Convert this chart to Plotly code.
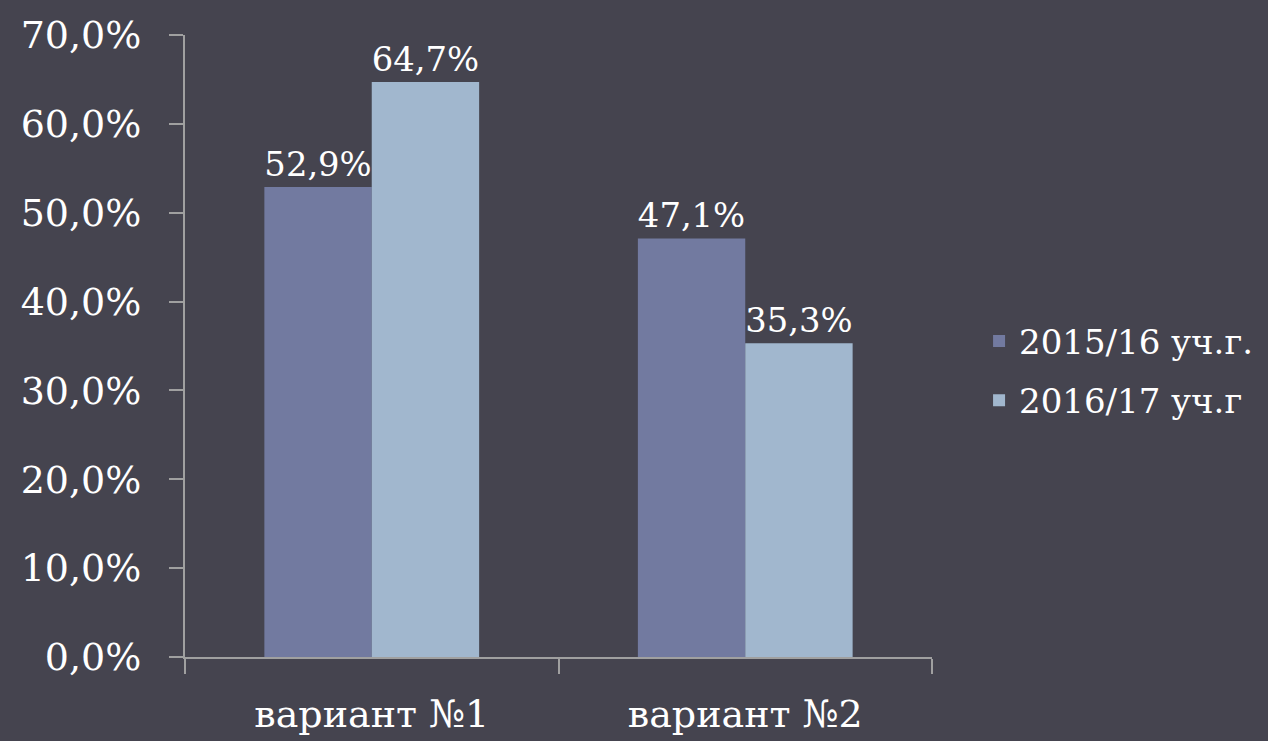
import plotly.graph_objects as go

categories = ["вариант №1", "вариант №2"]
series_names = ["2015/16 уч.г.", "2016/17 уч.г"]
values_2015 = [52.9, 47.1]
values_2016 = [64.7, 35.3]
y_ticks = [0, 10, 20, 30, 40, 50, 60, 70]

colors = ["#727aa0", "#a1b7ce"]
bg = "#45444f"
font_family = "DejaVu Serif"

def fmt(v):
    return f"{v:.1f}%".replace(".", ",")

fig = go.Figure()
for i, (name, vals) in enumerate(zip(series_names, [values_2015, values_2016])):
    fig.add_trace(go.Bar(
        x=categories, y=vals, name=name,
        marker=dict(color=colors[i], line=dict(width=0)),
        text=[fmt(v) for v in vals], textposition="outside",
        textfont=dict(color="white", size=38, family=font_family),
        cliponaxis=False, legendgroup=f"g{i}",
    ))

fig.update_layout(
    width=1268, height=741,
    paper_bgcolor=bg, plot_bgcolor=bg,
    margin=dict(l=185, r=336, t=35, b=84, autoexpand=False),
    barmode="group", bargap=0.425, bargroupgap=0,
    font=dict(family=font_family, color="white", size=36),
    showlegend=True,
    legend=dict(x=1.063, y=0.46, xanchor="left", yanchor="middle",
                font=dict(size=34, color="white"), tracegroupgap=12,
                bgcolor="rgba(0,0,0,0)"),
    uniformtext=dict(mode=False),
)
fig.update_yaxes(
    range=[0, 70], tickvals=y_ticks, ticktext=[fmt(v) for v in y_ticks],
    showgrid=False, zeroline=False, showline=True, linecolor="#a0a0a0", linewidth=2,
    ticks="outside", ticklen=14, tickcolor="#a0a0a0", tickwidth=2,
    ticklabelstandoff=20, automargin=False,
    tickfont=dict(size=38, color="white", family=font_family),
)
fig.update_xaxes(
    showgrid=False, showline=True, linecolor="#a0a0a0", linewidth=2,
    ticks="outside", ticklen=15, tickcolor="#a0a0a0", tickwidth=2,
    tickson="boundaries", ticklabelstandoff=22, automargin=False,
    tickfont=dict(size=38, color="white", family=font_family),
)

fig.write_html(
    "out.html",
    config={"displayModeBar": False},
    post_script="document.body.style.margin='0';document.body.style.background='#45444f';",
)
